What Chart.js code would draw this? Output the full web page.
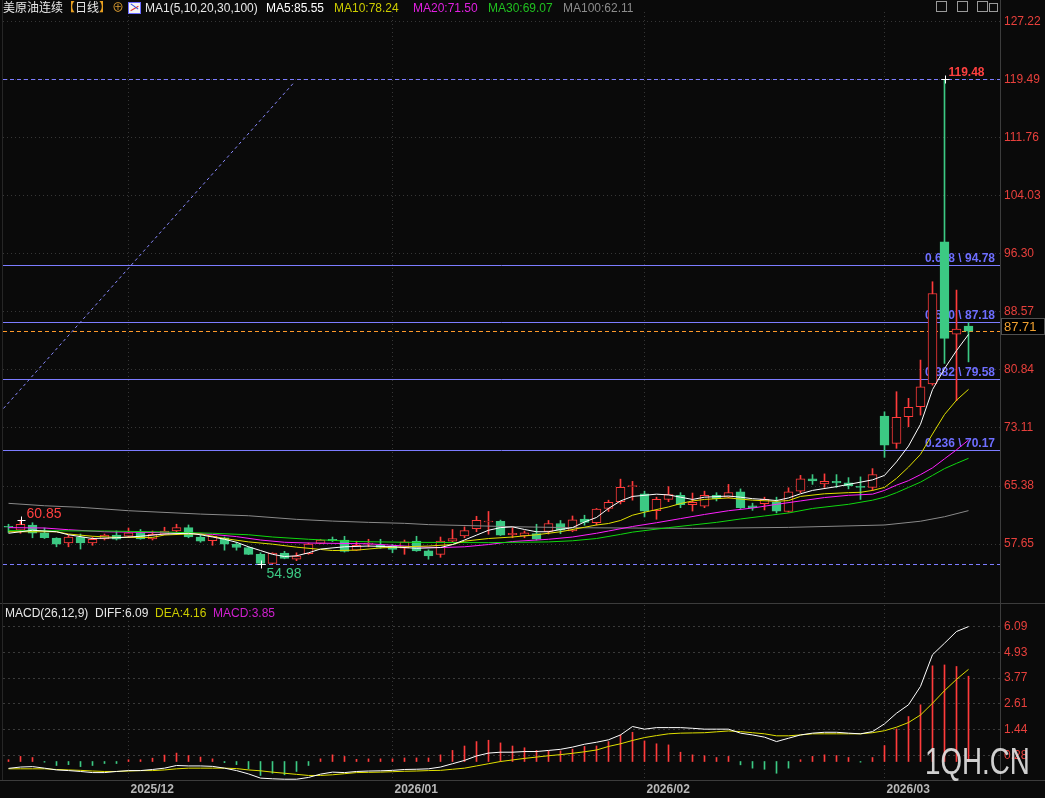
<!DOCTYPE html>
<html><head><meta charset="utf-8">
<title>美原油连续 日线</title>
<script src="https://cdn.jsdelivr.net/npm/chart.js@4.4.1/dist/chart.umd.min.js"></script>
<style>
html,body{margin:0;padding:0;background:#0a0a0a;}
#wrap{position:relative;width:1045px;height:798px;overflow:hidden;background:#0a0a0a;font-family:"Liberation Sans",Arial,"Noto Sans CJK SC",sans-serif;}
canvas{position:absolute;left:0;display:block;}
.t{position:absolute;white-space:nowrap;font-size:12px;line-height:14px;}
.ln{position:absolute;background:#3c3c3c;}
.ic{position:absolute;top:1px;width:9px;height:9px;border:1px solid #9a9a9a;}
</style></head><body>
<div id="wrap">
<canvas id="main" width="1045" height="603" style="top:0"></canvas>
<canvas id="macd" width="1045" height="195" style="top:603px"></canvas>
<div class="ln" style="left:1000px;top:0;width:1px;height:780px"></div>
<div class="ln" style="left:0;top:603px;width:1045px;height:1px"></div>
<div class="ln" style="left:0;top:780px;width:1045px;height:1px"></div>
<div class="ln" style="left:2px;top:0;width:1px;height:780px;background:#262626"></div>
<div id="legendTop"></div>
<div id="legendMacd"></div>
<div class="ic" style="left:936px"></div><div class="ic" style="left:957px"></div><div class="ic" style="left:977px"></div><div class="ic" style="left:989px;top:3px;width:7px;height:7px"></div>
<div class="t" style="left:925px;top:743px;font-size:37px;line-height:37px;color:rgba(228,228,228,0.9);transform:scaleX(0.75);transform-origin:left top;">1QH.CN</div>
</div>
<script>
// ---------- DATA ----------
const dates=['2025-11-17','2025-11-18','2025-11-19','2025-11-20','2025-11-21','2025-11-24','2025-11-25','2025-11-26','2025-11-27','2025-11-28',
'2025-12-01','2025-12-02','2025-12-03','2025-12-04','2025-12-05','2025-12-08','2025-12-09','2025-12-10','2025-12-11','2025-12-12','2025-12-15','2025-12-16','2025-12-17','2025-12-18','2025-12-19','2025-12-22','2025-12-23','2025-12-24','2025-12-26','2025-12-29','2025-12-30','2025-12-31',
'2026-01-02','2026-01-05','2026-01-06','2026-01-07','2026-01-08','2026-01-09','2026-01-12','2026-01-13','2026-01-14','2026-01-15','2026-01-16','2026-01-19','2026-01-20','2026-01-21','2026-01-22','2026-01-23','2026-01-26','2026-01-27','2026-01-28','2026-01-29','2026-01-30',
'2026-02-02','2026-02-03','2026-02-04','2026-02-05','2026-02-06','2026-02-09','2026-02-10','2026-02-11','2026-02-12','2026-02-13','2026-02-16','2026-02-17','2026-02-18','2026-02-19','2026-02-20','2026-02-23','2026-02-24','2026-02-25','2026-02-26','2026-02-27',
'2026-03-02','2026-03-03','2026-03-04','2026-03-05','2026-03-06','2026-03-09','2026-03-10','2026-03-11'];

const opens=[60.0,59.5,60.2,59.15,58.45,57.8,58.6,57.8,58.35,58.85, 58.7,59.2,58.35,58.97,59.4,59.85,58.6,58.1,58.5,57.65,
57.2,56.3,55.1,56.45,55.65,56.4,57.75,58.3,58.2,56.85, 57.65,57.5,57.4,57.1,58.05,56.75,56.3,58.05,58.75,59.7,
60.6,60.7,58.9,58.75,59.05,59.35,60.4,59.4,61.0,60.5, 62.4,63.3,65.3,64.35,62.1,63.6,64.15,62.9,62.7,64.15,
63.9,64.6,62.75,63.05,63.25,62.0,64.7,66.35,65.65,66.0, 65.8,65.35,65.2,74.69,71.06,74.6,75.93,78.95,97.88,85.6, 86.66];
const highs=[60.3,60.85,60.5,59.8,58.5,58.85,59.0,58.6,59.0,59.4, 59.8,59.6,59.4,59.9,60.3,60.2,58.9,58.75,58.6,57.9,
57.3,56.5,56.5,56.7,56.5,57.8,58.3,58.6,58.7,58.05, 58.3,58.3,57.6,58.2,58.7,56.9,58.6,59.6,59.95,61.36,
62.0,60.85,59.85,59.4,60.3,60.8,60.8,61.4,61.5,62.4, 63.5,66.3,66.0,64.7,63.9,65.3,64.5,64.45,64.7,64.5,
65.6,65.0,63.1,63.9,63.9,65.15,66.8,66.9,67.0,66.9, 66.5,66.6,67.7,75.26,77.93,77.05,82.14,92.56,119.48,91.45, 87.1];
const lows=[59.2,59.1,58.5,58.4,57.3,57.3,57.0,57.5,58.2,58.2, 58.6,58.3,58.2,58.9,59.3,58.5,57.9,57.5,56.85,56.85,
56.25,54.98,55.05,55.7,55.45,56.3,57.7,58.0,56.6,56.8, 57.3,57.1,56.5,56.3,56.7,55.65,55.9,57.9,58.5,59.3,
58.97,58.8,58.5,58.5,58.2,59.0,59.05,59.3,60.17,60.2, 62.0,63.0,63.5,61.27,60.96,63.3,62.5,62.05,62.5,63.4,
63.8,62.4,62.15,62.2,61.8,61.9,64.5,65.6,65.2,65.2, 65.0,63.6,64.8,69.2,70.4,73.27,74.82,78.8,81.7,76.73, 81.9];
const closes=[59.9,60.3,59.1,58.5,57.65,58.6,57.8,58.3,58.85,58.3, 59.15,58.35,58.97,59.4,59.85,58.6,58.05,58.7,57.65,57.2,
56.3,55.1,56.45,55.75,56.05,57.65,58.2,58.1,56.7,57.5, 57.8,57.2,56.95,57.95,56.75,56.1,58.05,58.4,59.45,60.83,
60.7,58.85,59.1,59.15,58.3,60.4,59.5,60.9,60.55,62.3, 63.2,65.2,65.45,62.05,63.6,64.25,62.9,63.2,64.15,63.7,
64.5,62.5,62.5,63.6,62.05,64.6,66.35,66.05,66.0,65.8, 65.4,65.2,66.9,70.83,74.52,75.85,78.59,91.0,85.03,86.27, 86.0];

// moving-average lines: [candle index, value]
const ma5Pts=[[0,59.1],[2,59.5],[4,59.3],[5,58.9],[7,58.4],[9,58.5],[11,58.7],[13,59.0],[15,59.1],[16,58.9],[17,58.6],[18,58.3],[19,57.9],[20,57.3],[21,56.8],[22,56.3],[23,56.0],[24,56.1],[25,56.5],[26,57.0],[28,57.3],[30,57.4],[32,57.3],[34,57.1],[36,57.2],[37,57.6],[38,58.2],[39,58.85],[40,59.5],[41,59.85],[42,59.95],[43,59.6],[44,59.3],[45,59.3],[46,59.6],[47,59.85],[48,60.6],[49,61.2],[50,62.4],[51,63.4],[52,64.0],[54,64.3],[55,64.2],[56,63.9],[57,63.6],[58,63.9],[60,64.05],[61,63.9],[62,63.7],[63,63.6],[64,63.45],[65,63.8],[66,64.35],[67,64.8],[69,65.3],[70,65.6],[71,65.9],[72,66.2],[73,66.8],[74,68.6],[75,70.7],[76,73.6],[77,78.2],[78,81.0],[79,83.4],[80,85.55]];
const ma10Pts=[[0,59.3],[4,59.3],[5,59.0],[7,58.7],[9,58.55],[12,58.55],[13,58.87],[15,59.0],[16,59.0],[18,58.4],[20,57.95],[22,57.65],[24,57.25],[26,56.95],[27,56.8],[29,56.85],[31,57.15],[33,57.3],[35,57.4],[37,57.6],[38,58.05],[40,58.4],[42,58.6],[44,58.9],[46,59.3],[48,59.9],[49,60.2],[50,60.4],[51,60.8],[52,61.5],[53,61.9],[55,62.6],[56,63.05],[57,63.4],[58,63.6],[60,63.8],[62,63.5],[64,63.35],[65,63.45],[66,64.0],[68,64.35],[70,64.5],[71,64.55],[72,64.8],[73,65.2],[74,66.4],[75,67.9],[76,69.6],[77,72.3],[78,74.9],[79,76.8],[80,78.24]];
const ma20Pts=[[0,59.85],[3,59.8],[5,59.57],[8,59.3],[12,59.2],[15,59.1],[17,58.95],[19,58.65],[21,58.2],[23,57.9],[25,57.8],[30,57.7],[32,57.5],[34,57.3],[36,57.2],[38,57.3],[40,57.6],[42,58.0],[45,58.3],[47,58.6],[49,59.1],[50,59.4],[52,60.0],[54,60.5],[56,61.05],[58,61.6],[60,62.1],[62,62.45],[64,62.95],[66,63.4],[68,63.85],[70,64.15],[72,64.3],[73,64.8],[74,65.5],[75,66.1],[76,66.9],[77,67.8],[78,69.0],[79,70.2],[80,71.5]];
const ma30Pts=[[0,59.45],[8,59.4],[12,59.3],[17,59.1],[20,58.9],[22,58.6],[25,58.3],[29,58.0],[33,57.9],[40,57.85],[45,57.95],[47,58.1],[49,58.4],[51,58.95],[52,59.25],[55,59.85],[57,60.2],[59,60.55],[61,61.0],[63,61.4],[65,61.8],[67,62.4],[70,62.95],[72,63.5],[73,63.9],[74,64.5],[75,65.2],[76,65.9],[77,66.8],[78,67.7],[79,68.4],[80,69.07]];
const ma100Pts=[[0,63.08],[3,62.76],[6,62.55],[10,62.1],[16,61.65],[20,61.43],[24,60.95],[27,60.72],[30,60.55],[33,60.42],[35,60.25],[42,59.97],[47,59.84],[57,59.75],[65,59.88],[73,60.2],[76,60.7],[78,61.3],[80,62.11]];
const maLegendValues=[85.55,78.24,71.50,69.07,62.11];

const priceTicks=[57.65,65.38,73.11,80.84,88.57,96.30,104.03,111.76,119.49,127.22];
const fibRatios=[0.236,0.382,0.500,0.618];
const fibValues=[70.17,79.58,87.18,94.78];
const trendLine=[[-0.42,75.7],[23.7,118.9]];
const highMarks=[1,78];
const lowMarks=[21];
const lastPriceLabel=87.71;

const macdDiff=[-0.31,-0.25,-0.23,-0.3,-0.38,-0.41,-0.45,-0.5,-0.5,-0.45, -0.41,-0.41,-0.36,-0.3,-0.18,-0.2,-0.2,-0.22,-0.3,-0.41,
-0.56,-0.75,-0.78,-0.8,-0.8,-0.72,-0.57,-0.48,-0.5,-0.45, -0.43,-0.42,-0.4,-0.36,-0.35,-0.33,-0.25,-0.1,0.05,0.25,
0.38,0.42,0.42,0.45,0.45,0.5,0.55,0.65,0.78,0.87, 0.98,1.2,1.58,1.46,1.53,1.53,1.53,1.5,1.46,1.46,
1.46,1.28,1.2,1.1,0.9,1.05,1.2,1.28,1.32,1.32, 1.28,1.25,1.35,1.7,2.18,2.56,3.39,4.82,5.34,5.87, 6.09];
const macdDea=[-0.33,-0.33,-0.33,-0.33,-0.36,-0.38,-0.4,-0.43,-0.45,-0.45, -0.43,-0.41,-0.41,-0.38,-0.33,-0.3,-0.3,-0.3,-0.3,-0.32,
-0.38,-0.42,-0.48,-0.53,-0.58,-0.63,-0.63,-0.6,-0.55,-0.5, -0.49,-0.48,-0.46,-0.44,-0.43,-0.41,-0.4,-0.35,-0.3,-0.2,
-0.1,0.0,0.07,0.14,0.2,0.26,0.31,0.37,0.44,0.52, 0.68,0.8,0.95,1.08,1.17,1.25,1.28,1.29,1.3,1.34,
1.38,1.35,1.3,1.25,1.16,1.16,1.2,1.25,1.25,1.25, 1.25,1.25,1.3,1.39,1.55,1.76,2.1,2.63,3.2,3.71, 4.16];
const macdHist=[0.08,0.23,0.18,-0.03,-0.18,-0.14,-0.23,-0.18,-0.09,-0.09, 0.08,0.08,0.15,0.29,0.38,0.27,0.2,0.12,-0.05,-0.14,
-0.33,-0.63,-0.53,-0.6,-0.45,-0.18,0.12,0.3,0.23,0.1, 0.12,0.12,0.12,0.16,0.16,0.16,0.3,0.5,0.7,0.9,
0.96,0.84,0.7,0.62,0.5,0.48,0.48,0.56,0.68,0.7, 0.9,1.2,1.32,0.93,0.8,0.75,0.42,0.3,0.26,0.18,
0.23,-0.15,-0.3,-0.35,-0.53,-0.3,0.08,0.23,0.3,0.27, 0.18,-0.03,0.18,0.72,1.47,2.03,2.56,4.32,4.36,4.29, 3.85];
const macdTicks=[0.28,1.44,2.61,3.77,4.93,6.09];
const macdLegendValues=[6.09,4.16,3.85];

// ---------- STYLE ----------
const RED='#ff3b3b', GREEN='#3cc983', BG='#0a0a0a', FIB='#7c7cff';
const maNames=['MA5','MA10','MA20','MA30','MA100'];
const maColors=['#ffffff','#e0e000','#ff20ff','#10d810','#8a8a8a'];
const maLegendColors=['#ffffff','#cccc00','#e020e0','#20c020','#8c8c8c'];
const FONT='"Liberation Sans", Arial, "Noto Sans CJK SC", sans-serif';
Chart.defaults.font.family=FONT;

const monthStarts=dates.map((d,i)=>(i>0&&d.slice(0,7)!==dates[i-1].slice(0,7))?i:-1).filter(i=>i>=0);
const X_MIN=-5.5/12, X_MAX=-5.5/12+997/12;

// ---------- LEGENDS ----------
(function(){
  const top=document.getElementById('legendTop');
  const mk=(html,left,color,topPx)=>{const s=document.createElement('div');s.className='t';s.style.left=left+'px';s.style.top=(topPx||1)+'px';s.style.color=color;s.innerHTML=html;top.appendChild(s);};
  mk('美原油连续<span style="color:#e8a020">【</span>日线<span style="color:#e8a020">】</span>',3,'#e8e8e8');
  mk('⊕',112,'#d89a30');
  const ic=document.createElement('div');ic.style.cssText='position:absolute;left:128px;top:2px;width:11px;height:10px;background:#f4f4f4;border:1px solid #6a6aff';
  ic.innerHTML='<div style="position:absolute;left:1px;top:5px;width:9px;height:1px;background:#e03030;transform:rotate(-30deg)"></div><div style="position:absolute;left:1px;top:3px;width:9px;height:1px;background:#3050e0;transform:rotate(35deg)"></div>';
  top.appendChild(ic);
  mk('MA1(5,10,20,30,100)',145,'#e8e8e8');
  const lefts=[266,334,413,488,563];
  maNames.forEach((n,k)=>mk(n+':'+maLegendValues[k].toFixed(2),lefts[k],maLegendColors[k]));
  const m=document.getElementById('legendMacd');
  const mk2=(txt,left,color)=>{const s=document.createElement('div');s.className='t';s.style.left=left+'px';s.style.top='606px';s.style.color=color;s.textContent=txt;m.appendChild(s);};
  mk2('MACD(26,12,9)',5,'#e8e8e8');
  mk2('DIFF:'+macdLegendValues[0].toFixed(2),95,'#e8e8e8');
  mk2('DEA:'+macdLegendValues[1].toFixed(2),155,'#cccc00');
  mk2('MACD:'+macdLegendValues[2].toFixed(2),213,'#d020d0');
})();

// ---------- MAIN CHART ----------
const up=i=>closes[i]>=opens[i];
const idx=dates.map((d,i)=>i);
const lineDS=(pts,color,order)=>({type:'line',data:pts.map(p=>({x:p[0],y:p[1]})),borderColor:color,borderWidth:1,pointRadius:0,tension:0,order:order,clip:true});

const mainOverlay={
  id:'mainOverlay',
  beforeDatasetsDraw(chart){
    const {ctx,chartArea:a,scales:{x,y}}=chart;
    const hl=(v,color,dash)=>{const py=Math.round(y.getPixelForValue(v))+0.5;ctx.save();ctx.strokeStyle=color;ctx.lineWidth=1;ctx.setLineDash(dash||[]);ctx.beginPath();ctx.moveTo(a.left,py);ctx.lineTo(a.right,py);ctx.stroke();ctx.restore();return py;};
    hl(Math.max(...highs),FIB,[4,3]);
    hl(Math.min(...lows),FIB,[4,3]);
    hl(closes[closes.length-1],'#ff9a2a',[4,3]);
    ctx.save();
    ctx.font='bold 12px '+FONT;ctx.textAlign='right';ctx.textBaseline='alphabetic';
    fibValues.forEach((v,k)=>{
      const py=hl(v,FIB);
      ctx.fillStyle='#6e6eff';
      ctx.fillText(fibRatios[k].toFixed(3)+' \\ '+v.toFixed(2),a.right-5,py-4);
    });
    ctx.restore();
  },
  afterDatasetsDraw(chart){
    const {ctx,scales:{x,y}}=chart;
    ctx.save();
    const plus=(px,py)=>{px=Math.round(px)+0.5;py=Math.round(py)+0.5;ctx.strokeStyle='#ffffff';ctx.lineWidth=1;ctx.beginPath();ctx.moveTo(px-4,py);ctx.lineTo(px+4,py);ctx.moveTo(px,py-4);ctx.lineTo(px,py+4);ctx.stroke();};
    highMarks.forEach(i=>{
      const px=x.getPixelForValue(i), py=y.getPixelForValue(highs[i]);
      plus(px,py);
      const isMax=highs[i]===Math.max(...highs);
      ctx.font=(isMax?'bold 12px ':'14px ')+FONT;ctx.fillStyle='#ff4040';ctx.textAlign='left';ctx.textBaseline='alphabetic';
      ctx.fillText(highs[i].toFixed(2),px+(isMax?4:6),py-(isMax?3:2));
    });
    lowMarks.forEach(i=>{
      const px=x.getPixelForValue(i), py=y.getPixelForValue(lows[i]);
      plus(px,py);
      ctx.font='14px '+FONT;ctx.fillStyle=GREEN;ctx.textAlign='left';ctx.textBaseline='top';
      ctx.fillText(lows[i].toFixed(2),px+6,py+3);
    });
    ctx.restore();
  },
  afterDraw(chart){
    const {ctx,scales:{y}}=chart;
    const yc=Math.round(y.getPixelForValue(closes[closes.length-1]));
    ctx.save();
    ctx.fillStyle='#000';ctx.fillRect(1001,yc-13,44,17);
    ctx.strokeStyle='#505050';ctx.lineWidth=1;ctx.strokeRect(1001.5,yc-12.5,43,16);
    ctx.font='13px '+FONT;ctx.fillStyle='#f0a030';ctx.textAlign='left';ctx.textBaseline='middle';
    ctx.fillText(lastPriceLabel.toFixed(2),1004,yc-4);
    ctx.restore();
  }
};

new Chart(document.getElementById('main'),{
  type:'bar',
  data:{datasets:[
    {type:'bar',data:idx.map(i=>({x:i,y:[lows[i],highs[i]]})),backgroundColor:idx.map(i=>up(i)?RED:GREEN),barThickness:1,grouped:false,order:5},
    {type:'bar',data:idx.map(i=>({x:i,y:[opens[i],closes[i]]})),backgroundColor:idx.map(i=>up(i)?BG:GREEN),borderColor:idx.map(i=>up(i)?RED:GREEN),borderWidth:1,borderSkipped:false,barThickness:9,minBarLength:1,grouped:false,order:4},
    lineDS(ma100Pts,maColors[4],3),
    lineDS(ma30Pts,maColors[3],2),
    lineDS(ma20Pts,maColors[2],2),
    lineDS(ma10Pts,maColors[1],1),
    lineDS(ma5Pts,maColors[0],0),
    Object.assign(lineDS(trendLine,'#8a8aff',0),{borderDash:[3,3]})
  ]},
  options:{
    responsive:false,animation:false,devicePixelRatio:1,events:[],
    layout:{padding:{left:3,top:12,right:0,bottom:3}},
    plugins:{legend:{display:false},tooltip:{enabled:false}},
    scales:{
      x:{type:'linear',min:X_MIN,max:X_MAX,offset:false,
        afterBuildTicks:s=>{s.ticks=monthStarts.map(v=>({value:v}));},
        afterFit:s=>{s.height=0;s.paddingLeft=0;s.paddingRight=0;},
        ticks:{display:false},
        grid:{color:'#363636',drawTicks:false,offset:false},
        border:{display:false,dash:[1,3]}},
      y:{position:'right',min:50.221,max:128.444,
        afterBuildTicks:s=>{s.ticks=priceTicks.map(v=>({value:v}));},
        afterFit:s=>{s.width=45;s.paddingTop=0;s.paddingBottom=0;},
        ticks:{color:'#e8403c',font:{size:12},padding:4,callback:v=>Number(v).toFixed(2)},
        grid:{color:'#363636',drawTicks:false},
        border:{display:false,dash:[1,3]}}
    }
  },
  plugins:[mainOverlay]
});

// ---------- MACD CHART ----------
new Chart(document.getElementById('macd'),{
  type:'bar',
  data:{datasets:[
    {type:'bar',data:macdHist.map((v,i)=>({x:i,y:v})),backgroundColor:macdHist.map(v=>v>=0?RED:GREEN),barThickness:1,grouped:false,order:3},
    {type:'line',data:macdDea.map((v,i)=>({x:i,y:v})),borderColor:'#e0e000',borderWidth:1,pointRadius:0,tension:0,order:1},
    {type:'line',data:macdDiff.map((v,i)=>({x:i,y:v})),borderColor:'#ffffff',borderWidth:1,pointRadius:0,tension:0,order:0}
  ]},
  options:{
    responsive:false,animation:false,devicePixelRatio:1,events:[],
    layout:{padding:{left:3,top:2,right:0,bottom:0}},
    plugins:{legend:{display:false},tooltip:{enabled:false}},
    scales:{
      x:{type:'linear',min:X_MIN,max:X_MAX,offset:false,
        afterBuildTicks:s=>{s.ticks=monthStarts.map(v=>({value:v}));},
        afterFit:s=>{s.height=18;s.paddingLeft=0;s.paddingRight=0;},
        ticks:{color:'#b8b8b8',font:{size:12,weight:'bold'},padding:2,align:'start',labelOffset:2,maxRotation:0,autoSkip:false,
          callback:v=>dates[Math.round(v)].slice(0,7).replace('-','/')},
        grid:{color:'#363636',drawTicks:false,offset:false},
        border:{display:false,dash:[1,3]}},
      y:{position:'right',min:-0.835,max:7.066,
        afterBuildTicks:s=>{s.ticks=macdTicks.map(v=>({value:v}));},
        afterFit:s=>{s.width=45;s.paddingTop=0;s.paddingBottom=0;},
        ticks:{color:'#e8403c',font:{size:12},padding:4,callback:v=>Number(v).toFixed(2)},
        grid:{color:'#3a3a3a',drawTicks:false},
        border:{display:false,dash:[2,3]}}
    }
  }
});
</script>
</body></html>
